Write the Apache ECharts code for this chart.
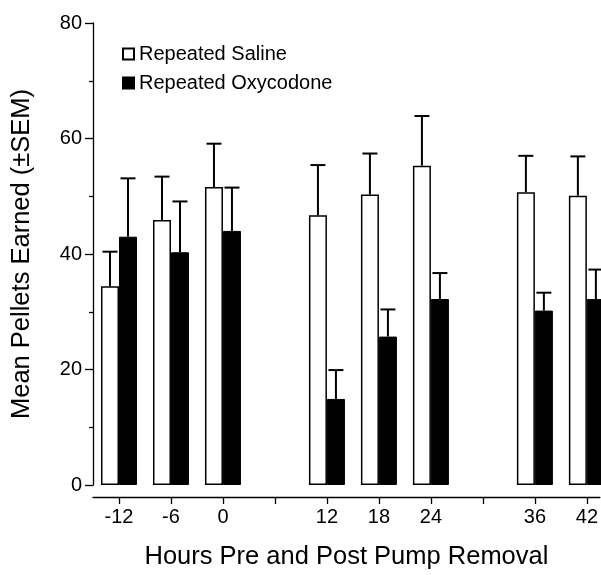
<!DOCTYPE html>
<html>
<head>
<meta charset="utf-8">
<script src="https://cdn.jsdelivr.net/npm/echarts@6/dist/echarts.min.js"></script>
<style>html,body{margin:0;padding:0;background:#fff;}#c{width:601px;height:575px;}</style>
</head>
<body>
<div id="c"></div>
<script>
var hours = [-12, -6, 0, 12, 18, 24, 36, 42];
var salineMean = [34.4, 45.9, 51.6, 46.7, 50.3, 55.3, 50.7, 50.1];
var salineSem = [6.0, 7.5, 7.5, 8.7, 7.1, 8.6, 6.3, 6.8];
var oxyMean = [43.0, 40.3, 44.0, 14.9, 25.7, 32.2, 30.2, 32.2];
var oxySem = [10.1, 8.8, 7.5, 5.0, 4.7, 4.5, 3.1, 5.1];
var xTicks = [-12, -6, 0, 6, 12, 18, 24, 30, 36, 42];
var xLabels = [-12, -6, 0, 12, 18, 24, 36, 42];

var FONT = '"Liberation Sans", Arial, Helvetica, sans-serif';
var BAR_W = 18;

function pairs(xs, ys) { return xs.map(function (x, i) { return [x, ys[i]]; }); }
function errData(xs, m, s) { return xs.map(function (x, i) { return [x, m[i], m[i] + s[i]]; }); }

function errRender(offset) {
  return function (params, api) {
    var p0 = api.coord([api.value(0), api.value(1)]);
    var p1 = api.coord([api.value(0), api.value(2)]);
    var x = p0[0] + offset;
    var style = { stroke: '#000', lineWidth: 2 };
    return {
      type: 'group',
      children: [
        { type: 'line', shape: { x1: x, y1: p0[1], x2: x, y2: p1[1] }, style: style },
        { type: 'line', shape: { x1: x - 7.5, y1: p1[1], x2: x + 7.5, y2: p1[1] }, style: style }
      ]
    };
  };
}

var chart = echarts.init(document.getElementById('c'));
chart.setOption({
  animation: false,
  backgroundColor: '#fff',
  textStyle: { fontFamily: FONT, color: '#000' },
  grid: { left: 93, right: 0, top: 23, bottom: 85 },
  legend: {
    orient: 'vertical',
    left: 122,
    top: 44,
    padding: 0,
    itemWidth: 11,
    itemHeight: 11,
    itemGap: 9,
    icon: 'rect',
    textStyle: { fontFamily: FONT, fontSize: 20, color: '#000', lineHeight: 20 },
    data: ['Repeated Saline', 'Repeated Oxycodone']
  },
  xAxis: {
    type: 'value',
    min: -15,
    max: 43.5,
    offset: 12,
    name: 'Hours Pre and Post Pump Removal',
    nameLocation: 'middle',
    nameGap: 47,
    nameTextStyle: { fontFamily: FONT, fontSize: 25.5, color: '#000' },
    splitLine: { show: false },
    axisLine: { show: true, onZero: false, lineStyle: { color: '#000', width: 1.3 } },
    axisTick: { show: true, length: 7, customValues: xTicks, lineStyle: { color: '#000', width: 1.3 } },
    axisLabel: { customValues: xLabels, fontFamily: FONT, fontSize: 20, color: '#000', margin: 10 }
  },
  yAxis: {
    type: 'value',
    min: 0,
    max: 80,
    interval: 20,
    name: 'Mean Pellets Earned (\u00b1SEM)',
    nameLocation: 'middle',
    nameGap: 58,
    nameTextStyle: { fontFamily: FONT, fontSize: 25.5, color: '#000' },
    splitLine: { show: false },
    axisLine: { show: true, onZero: false, lineStyle: { color: '#000', width: 1.3 } },
    axisTick: { show: true, length: 8, lineStyle: { color: '#000', width: 1.3 } },
    minorTick: { show: true, splitNumber: 2, length: 4, lineStyle: { color: '#000', width: 1.3 } },
    axisLabel: { fontFamily: FONT, fontSize: 20, color: '#000', margin: 11 }
  },
  series: [
    {
      name: 'Repeated Saline',
      type: 'bar',
      barWidth: BAR_W,
      barGap: '0%',
      clip: false,
      itemStyle: { color: '#fff', borderColor: '#000', borderWidth: 1.5 },
      data: pairs(hours, salineMean)
    },
    {
      name: 'Repeated Oxycodone',
      type: 'bar',
      barWidth: BAR_W,
      barGap: '0%',
      clip: false,
      itemStyle: { color: '#000', borderColor: '#000', borderWidth: 1 },
      data: pairs(hours, oxyMean)
    },
    {
      type: 'custom',
      renderItem: errRender(-BAR_W / 2),
      data: errData(hours, salineMean, salineSem),
      z: 3,
      clip: false
    },
    {
      type: 'custom',
      renderItem: errRender(BAR_W / 2),
      data: errData(hours, oxyMean, oxySem),
      z: 3,
      clip: false
    }
  ]
});
</script>
</body>
</html>
